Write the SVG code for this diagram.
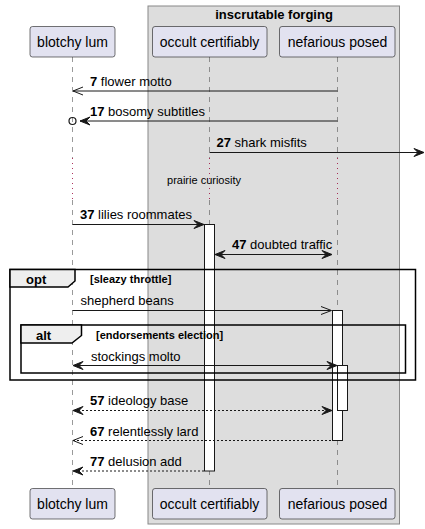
<svg xmlns="http://www.w3.org/2000/svg" width="425" height="529" viewBox="0 0 425 529">
<defs>
<style>
text{font-family:"Liberation Sans",Arial,sans-serif;fill:#000}
.p{font-size:14px}
.m{font-size:13px}
.b{font-weight:bold}
.s{font-size:11px}
.pbox{fill:#E2E2F0;stroke:#181818;stroke-width:0.6}
.life{stroke:#555;stroke-width:0.6;stroke-dasharray:5,5}
.delay{stroke:#990033;stroke-width:0.8;stroke-dasharray:1,4}
.msg{stroke:#181818;stroke-width:1;fill:none}
.dash{stroke-dasharray:2,2}
.act{fill:#fff;stroke:#181818;stroke-width:1}
.frame{fill:none;stroke:#000;stroke-width:1.5}
.tab{fill:#EEEEEE;stroke:#000;stroke-width:1.5}
.ah{fill:#181818;stroke:#181818;stroke-width:1}
.oh{fill:none;stroke:#181818;stroke-width:1}
</style>
</defs>
<rect x="148" y="6" width="251.5" height="518" fill="#DDDDDD" stroke="#888" stroke-width="1"/>
<text class="m b" x="274" y="19" text-anchor="middle">inscrutable forging</text>

<g id="lifelines">
<line class="life" x1="72.5" y1="57" x2="72.5" y2="158"/>
<line class="life" x1="72.5" y1="200" x2="72.5" y2="489"/>
<line class="life" x1="209.5" y1="57" x2="209.5" y2="158"/>
<line class="life" x1="209.5" y1="200" x2="209.5" y2="489"/>
<line class="life" x1="337.5" y1="57" x2="337.5" y2="158"/>
<line class="life" x1="337.5" y1="200" x2="337.5" y2="489"/>
<line class="delay" x1="72.5" y1="158" x2="72.5" y2="200"/>
<line class="delay" x1="209.5" y1="158" x2="209.5" y2="200"/>
<line class="delay" x1="337.5" y1="158" x2="337.5" y2="200"/>
</g>

<g id="blotchy-lum">
<rect class="pbox" x="30" y="26.5" width="85" height="30.5" rx="2.5"/>
<text class="p" x="72.5" y="47" text-anchor="middle">blotchy lum</text>
<rect class="pbox" x="30" y="488.5" width="85" height="30.5" rx="2.5"/>
<text class="p" x="72.5" y="509" text-anchor="middle">blotchy lum</text>
</g>
<g id="occult-certifiably">
<rect class="pbox" x="152.5" y="26.5" width="114.5" height="30.5" rx="2.5"/>
<text class="p" x="209.5" y="47" text-anchor="middle">occult certifiably</text>
<rect class="pbox" x="152.5" y="488.5" width="114.5" height="30.5" rx="2.5"/>
<text class="p" x="209.5" y="509" text-anchor="middle">occult certifiably</text>
</g>
<g id="nefarious-posed">
<rect class="pbox" x="279.5" y="26.5" width="115.5" height="30.5" rx="2.5"/>
<text class="p" x="337.5" y="47" text-anchor="middle">nefarious posed</text>
<rect class="pbox" x="279.5" y="488.5" width="115.5" height="30.5" rx="2.5"/>
<text class="p" x="337.5" y="509" text-anchor="middle">nefarious posed</text>
</g>

<g id="activations">
<rect class="act" x="204.5" y="224.5" width="10" height="246.5"/>
<rect class="act" x="332.5" y="310.5" width="10" height="130"/>
<rect class="act" x="337.5" y="365.5" width="10" height="45"/>
</g>

<g id="frames">
<rect class="frame" x="10" y="269.5" width="405.5" height="110.5"/>
<path class="tab" d="M10,269.5 H75 V281 L68,287 H10 Z"/>
<text class="m b" x="26" y="284">opt</text>
<text class="s b" x="90" y="282.5">[sleazy throttle]</text>
<rect class="frame" x="21" y="325" width="384.5" height="48"/>
<path class="tab" d="M21,325 H81.5 V335.5 L72,343 H21 Z"/>
<text class="m b" x="36" y="340">alt</text>
<text class="s b" x="96" y="338.5">[endorsements election]</text>
</g>

<g id="connectors">
<!-- 7 -->
<line class="msg" x1="73" y1="91" x2="337.5" y2="91"/>
<path class="oh" d="M83,87 L73,91 L83,95"/>
<text class="m" x="90" y="86"><tspan class="b">7</tspan> flower motto</text>
<!-- 17 -->
<line class="msg" x1="80" y1="121" x2="337.5" y2="121"/>
<polygon class="ah" points="80,121 90,117 86,121 90,125"/>
<circle cx="72.5" cy="121" r="3.5" fill="none" stroke="#181818" stroke-width="1.2"/>
<text class="m" x="90" y="116"><tspan class="b">17</tspan> bosomy subtitles</text>
<!-- 27 -->
<line class="msg" x1="209.5" y1="152.5" x2="423" y2="152.5"/>
<polygon class="ah" points="424,152.5 414,148.5 418,152.5 414,156.5"/>
<text class="m" x="216.5" y="146.5"><tspan class="b">27</tspan> shark misfits</text>
<!-- delay -->
<text class="s" x="204" y="184" text-anchor="middle">prairie curiosity</text>
<!-- 37 -->
<line class="msg" x1="72.5" y1="224.5" x2="203" y2="224.5"/>
<polygon class="ah" points="204,224.5 194,220.5 198,224.5 194,228.5"/>
<text class="m" x="80" y="219"><tspan class="b">37</tspan> lilies roommates</text>
<!-- 47 -->
<line class="msg" x1="215" y1="254.5" x2="331" y2="254.5"/>
<polygon class="ah" points="215,254.5 225,250.5 221,254.5 225,258.5"/>
<polygon class="ah" points="332,254.5 322,250.5 326,254.5 322,258.5"/>
<text class="m" x="232" y="249"><tspan class="b">47</tspan> doubted traffic</text>
<!-- shepherd -->
<line class="msg" x1="72.5" y1="310.5" x2="331" y2="310.5"/>
<path class="oh" d="M321,306.5 L331.5,310.5 L321,314.5"/>
<text class="m" x="80.5" y="305">shepherd beans</text>
<!-- stockings -->
<line class="msg" x1="74" y1="365.5" x2="336" y2="365.5"/>
<polygon class="ah" points="73,365.5 83,361.5 79,365.5 83,369.5"/>
<polygon class="ah" points="337,365.5 327,361.5 331,365.5 327,369.5"/>
<text class="m" x="91" y="360.5">stockings molto</text>
<!-- 57 -->
<line class="msg dash" x1="74" y1="410.5" x2="331" y2="410.5"/>
<polygon class="ah" points="73,410.5 83,406.5 79,410.5 83,414.5"/>
<polygon class="ah" points="332,410.5 322,406.5 326,410.5 322,414.5"/>
<text class="m" x="90" y="405"><tspan class="b">57</tspan> ideology base</text>
<!-- 67 -->
<line class="msg dash" x1="73" y1="440.5" x2="332" y2="440.5"/>
<path class="oh" d="M83,436.5 L73,440.5 L83,444.5"/>
<text class="m" x="90" y="435.5"><tspan class="b">67</tspan> relentlessly lard</text>
<!-- 77 -->
<line class="msg dash" x1="74" y1="471" x2="204" y2="471"/>
<polygon class="ah" points="73,471 83,467 79,471 83,475"/>
<text class="m" x="90" y="465.5"><tspan class="b">77</tspan> delusion add</text>
</g>
</svg>
